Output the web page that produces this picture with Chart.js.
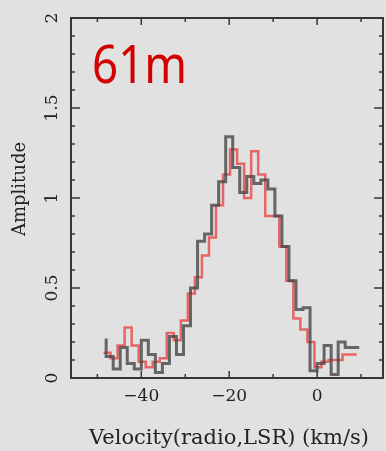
<!DOCTYPE html>
<html>
<head>
<meta charset="utf-8">
<script src="https://cdn.jsdelivr.net/npm/chart.js@4"></script>
<style>
  html, body { margin: 0; padding: 0; background: #e1e1e1; }
  #wrap { width: 386px; height: 451px; }
</style>
</head>
<body>
<div id="wrap"><canvas id="spectrum"></canvas></div>
<script>
// channel edges (km/s) and amplitudes; last edge closes the final channel
const velocityBlack = [-48.0, -46.4, -44.8, -43.2, -41.6, -40.0, -38.4, -36.8, -35.2, -33.6, -32.0, -30.4,
                       -28.8, -27.2, -25.6, -24.0, -22.4, -20.8, -19.2, -17.6, -16.0, -14.4, -12.8, -11.2,
                       -9.6, -8.0, -6.4, -4.8, -3.2, -1.6, 0.0, 1.6, 3.2, 4.8, 6.4, 8.0, 9.6];
const ampBlack = [0.22, 0.12, 0.05, 0.17, 0.08, 0.05, 0.21, 0.13, 0.03, 0.08, 0.23, 0.13,
                  0.29, 0.50, 0.76, 0.80, 0.96, 1.09, 1.34, 1.17, 1.03, 1.12, 1.08, 1.10,
                  1.05, 0.90, 0.73, 0.54, 0.38, 0.39, 0.04, 0.08, 0.18, 0.02, 0.20, 0.17];

const velocityRed = [-48.6, -47.0, -45.4, -43.8, -42.2, -40.6, -39.0, -37.4, -35.8, -34.2, -32.6, -31.0,
                     -29.4, -27.8, -26.2, -24.6, -23.0, -21.4, -19.8, -18.2, -16.6, -15.0, -13.4, -11.8,
                     -10.2, -8.6, -7.0, -5.4, -3.8, -2.2, -0.6, 1.0, 2.6, 4.2, 5.8, 7.4, 9.0];
const ampRed = [0.14, 0.14, 0.11, 0.18, 0.28, 0.18, 0.09, 0.06, 0.09, 0.11, 0.25, 0.21,
                0.32, 0.47, 0.56, 0.68, 0.78, 0.96, 1.13, 1.27, 1.19, 1.00, 1.26, 1.13,
                0.90, 0.90, 0.73, 0.54, 0.33, 0.27, 0.20, 0.06, 0.09, 0.10, 0.10, 0.13];

const xTicks = [-40, -20, 0];
const xMinorTicks = [-50, -30, -10, 10];
const yTicks = [0, 0.5, 1, 1.5, 2];
const yTickLabels = ['0', '0.5', '1', '1.5', '2'];

function steps(edges, values) {
    return edges.map((v, i) => ({ x: v, y: values[Math.min(i, values.length - 1)] }));
}

const frame = {
    id: 'frame',
    beforeDraw(chart) {
        const c = chart.ctx;
        c.save();
        c.fillStyle = '#e1e1e1';
        c.fillRect(0, 0, chart.width, chart.height);
        c.restore();
    },
    afterDatasetsDraw(chart) {
        const c = chart.ctx;
        const a = chart.chartArea;
        const xs = chart.scales.x, ys = chart.scales.y;
        c.save();
        c.strokeStyle = '#363636';
        c.lineWidth = 2;
        c.strokeRect(a.left, a.top, a.right - a.left, a.bottom - a.top);

        c.lineWidth = 1.5;
        c.beginPath();
        // x ticks, pointing inward top and bottom
        xTicks.concat(xMinorTicks).forEach(v => {
            const px = xs.getPixelForValue(v);
            const len = xTicks.includes(v) ? 7 : 4;
            c.moveTo(px, a.bottom); c.lineTo(px, a.bottom - len);
            c.moveTo(px, a.top); c.lineTo(px, a.top + len);
        });
        // y ticks every 0.1, longer every 0.5
        for (let i = 0; i <= 20; i++) {
            const py = ys.getPixelForValue(i / 10);
            const len = i % 5 === 0 ? 9 : 4;
            c.moveTo(a.left, py); c.lineTo(a.left + len, py);
            c.moveTo(a.right, py); c.lineTo(a.right - len, py);
        }
        c.stroke();

        c.fillStyle = '#222';
        c.font = '17px "DejaVu Serif"';
        c.textAlign = 'center';
        c.textBaseline = 'middle';
        xTicks.forEach(v => {
            const label = v < 0 ? '\u2212' + Math.abs(v) : String(v);
            c.fillText(label, xs.getPixelForValue(v), a.bottom + 19);
        });
        yTicks.forEach((v, i) => {
            c.save();
            c.translate(a.left - 18, ys.getPixelForValue(v));
            c.rotate(-Math.PI / 2);
            c.fillText(yTickLabels[i], 0, 0);
            c.restore();
        });

        c.font = '21px "DejaVu Serif"';
        c.fillText('Velocity(radio,LSR) (km/s)', 229, 439);
        c.font = '18px "DejaVu Serif"';
        c.save();
        c.translate(20, 189);
        c.rotate(-Math.PI / 2);
        c.fillText('Amplitude', 0, 0);
        c.restore();

        // station label, slightly condensed
        c.fillStyle = '#d40000';
        c.font = '52px "Noto Sans"';
        c.textAlign = 'left';
        c.textBaseline = 'alphabetic';
        c.translate(92, 83);
        c.scale(0.88, 1);
        c.fillText('61m', 0, 0);
        c.restore();
    }
};

new Chart(document.getElementById('spectrum'), {
    type: 'line',
    data: {
        datasets: [{
            data: steps(velocityBlack, ampBlack),
            stepped: 'after',
            borderColor: 'rgba(70, 70, 70, 0.8)',
            borderWidth: 3,
            pointRadius: 0,
            fill: false
        }, {
            data: steps(velocityRed, ampRed),
            stepped: 'after',
            borderColor: 'rgba(232, 70, 70, 0.8)',
            borderWidth: 2.5,
            pointRadius: 0,
            fill: false
        }]
    },
    options: {
        responsive: true,
        maintainAspectRatio: false,
        animation: false,
        layout: { padding: { left: 71, right: 3, top: 18, bottom: 73 } },
        plugins: { legend: { display: false }, tooltip: { enabled: false } },
        scales: {
            x: { type: 'linear', min: -56, max: 15, display: false },
            y: { type: 'linear', min: 0, max: 2, display: false }
        }
    },
    plugins: [frame]
});
</script>
</body>
</html>
